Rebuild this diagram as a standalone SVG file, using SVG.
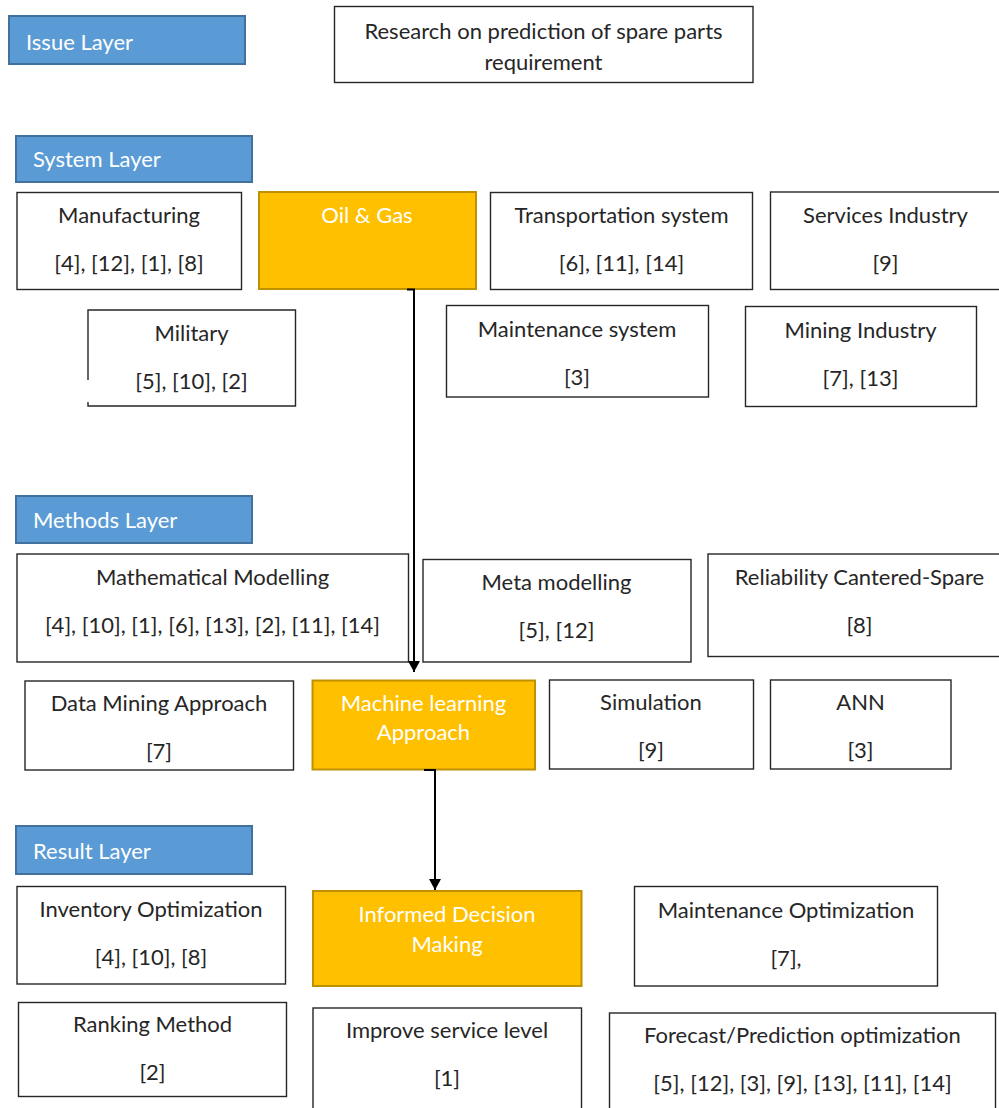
<svg xmlns="http://www.w3.org/2000/svg" width="999" height="1108" viewBox="0 0 999 1108">
<style>
text{font-family:Lato,"Liberation Sans",sans-serif;font-size:22px;fill:#262626;text-anchor:middle}
.layer rect{fill:#5B9BD5;stroke:#41719C;stroke-width:2}
.layer text{fill:#fff;text-anchor:start}
.box rect,.box path{fill:#fff;stroke:#262626;stroke-width:1.4}
.hl rect{fill:#FFC000;stroke:#BF9000;stroke-width:2}
.hl text{fill:#fff}
.conn path{fill:none;stroke:#000;stroke-width:2}
</style>
<defs>
<marker id="ah" markerUnits="userSpaceOnUse" markerWidth="11" markerHeight="12" refX="11" refY="6" orient="auto">
<path d="M0,0 L11,6 L0,12 z" fill="#000"/>
</marker>
</defs>

<g id="issue-layer" class="layer"><rect x="9" y="16" width="236" height="48"/><text x="26" y="50">Issue Layer</text></g>
<g id="system-layer" class="layer"><rect x="16" y="136" width="236" height="46"/><text x="33" y="167">System Layer</text></g>
<g id="methods-layer" class="layer"><rect x="16" y="496" width="236" height="47"/><text x="33" y="528">Methods Layer</text></g>
<g id="result-layer" class="layer"><rect x="16" y="826" width="236" height="48"/><text x="33" y="859">Result Layer</text></g>

<g id="research" class="box"><rect x="334.5" y="6.5" width="418.5" height="76"/><text x="543.5" y="39">Research on prediction of spare parts</text><text x="543.5" y="70">requirement</text></g>

<g id="manufacturing" class="box"><rect x="17" y="192.5" width="224.5" height="97"/><text x="129" y="223">Manufacturing</text><text x="129" y="271">[4], [12], [1], [8]</text></g>
<g id="oil-gas" class="hl"><rect x="259" y="192" width="217" height="97"/><text x="367" y="223">Oil &amp; Gas</text></g>
<g id="transportation" class="box"><rect x="490.5" y="192.5" width="262" height="97"/><text x="621.5" y="223">Transportation system</text><text x="621.5" y="271">[6], [11], [14]</text></g>
<g id="services" class="box"><rect x="770.5" y="192" width="240" height="97.5"/><text x="885.5" y="223">Services Industry</text><text x="885.5" y="271">[9]</text></g>
<g id="military" class="box"><path d="M88,380 V310 H295.5 V406 H88 V402" fill="none"/><text x="191.5" y="341">Military</text><text x="191.5" y="389">[5], [10], [2]</text></g>
<g id="maintenance-system" class="box"><rect x="446.5" y="305.5" width="262" height="91.5"/><text x="577" y="337">Maintenance system</text><text x="577" y="385">[3]</text></g>
<g id="mining" class="box"><rect x="745.5" y="306.5" width="231" height="100"/><text x="860.5" y="338">Mining Industry</text><text x="860.5" y="386">[7], [13]</text></g>

<g id="math-modelling" class="box"><rect x="17" y="554" width="391.5" height="108"/><text x="212.5" y="585">Mathematical Modelling</text><text x="212.5" y="633">[4], [10], [1], [6], [13], [2], [11], [14]</text></g>
<g id="meta-modelling" class="box"><rect x="423" y="559.5" width="268" height="102.5"/><text x="556.5" y="590">Meta modelling</text><text x="556.5" y="638">[5], [12]</text></g>
<g id="reliability" class="box"><rect x="708" y="554" width="300" height="102.5"/><text x="859.5" y="585">Reliability Cantered-Spare</text><text x="859.5" y="633">[8]</text></g>
<g id="data-mining" class="box"><rect x="25" y="681" width="268.5" height="89"/><text x="159" y="711">Data Mining Approach</text><text x="159" y="759">[7]</text></g>
<g id="machine-learning" class="hl"><rect x="312.5" y="680.5" width="222.5" height="89"/><text x="423.5" y="711">Machine learning</text><text x="423.5" y="740">Approach</text></g>
<g id="simulation" class="box"><rect x="549.5" y="680" width="204" height="89"/><text x="651" y="710">Simulation</text><text x="651" y="758">[9]</text></g>
<g id="ann" class="box"><rect x="770.5" y="680" width="180.5" height="89"/><text x="860.5" y="710">ANN</text><text x="860.5" y="758">[3]</text></g>

<g id="inventory" class="box"><rect x="17" y="886.5" width="268.5" height="97.5"/><text x="151" y="917">Inventory Optimization</text><text x="151" y="965">[4], [10], [8]</text></g>
<g id="informed-decision" class="hl"><rect x="313" y="891" width="268.5" height="95"/><text x="447" y="922">Informed Decision</text><text x="447" y="952">Making</text></g>
<g id="maintenance-opt" class="box"><rect x="634.5" y="886.5" width="303" height="99.5"/><text x="786" y="918">Maintenance Optimization</text><text x="786" y="966">[7],</text></g>
<g id="ranking" class="box"><rect x="18.5" y="1002.5" width="268" height="94"/><text x="152.5" y="1032">Ranking Method</text><text x="152.5" y="1080">[2]</text></g>
<g id="improve-service" class="box"><rect x="313" y="1008" width="268.5" height="110"/><text x="447" y="1038">Improve service level</text><text x="447" y="1086">[1]</text></g>
<g id="forecast" class="box"><rect x="609.5" y="1013" width="386" height="110"/><text x="802.5" y="1043">Forecast/Prediction optimization</text><text x="802.5" y="1091">[5], [12], [3], [9], [13], [11], [14]</text></g>

<g id="connectors" class="conn">
<path d="M407,289.5 H414 V672" marker-end="url(#ah)"/>
<path d="M424,770 H435 V890" marker-end="url(#ah)"/>
</g>
</svg>
